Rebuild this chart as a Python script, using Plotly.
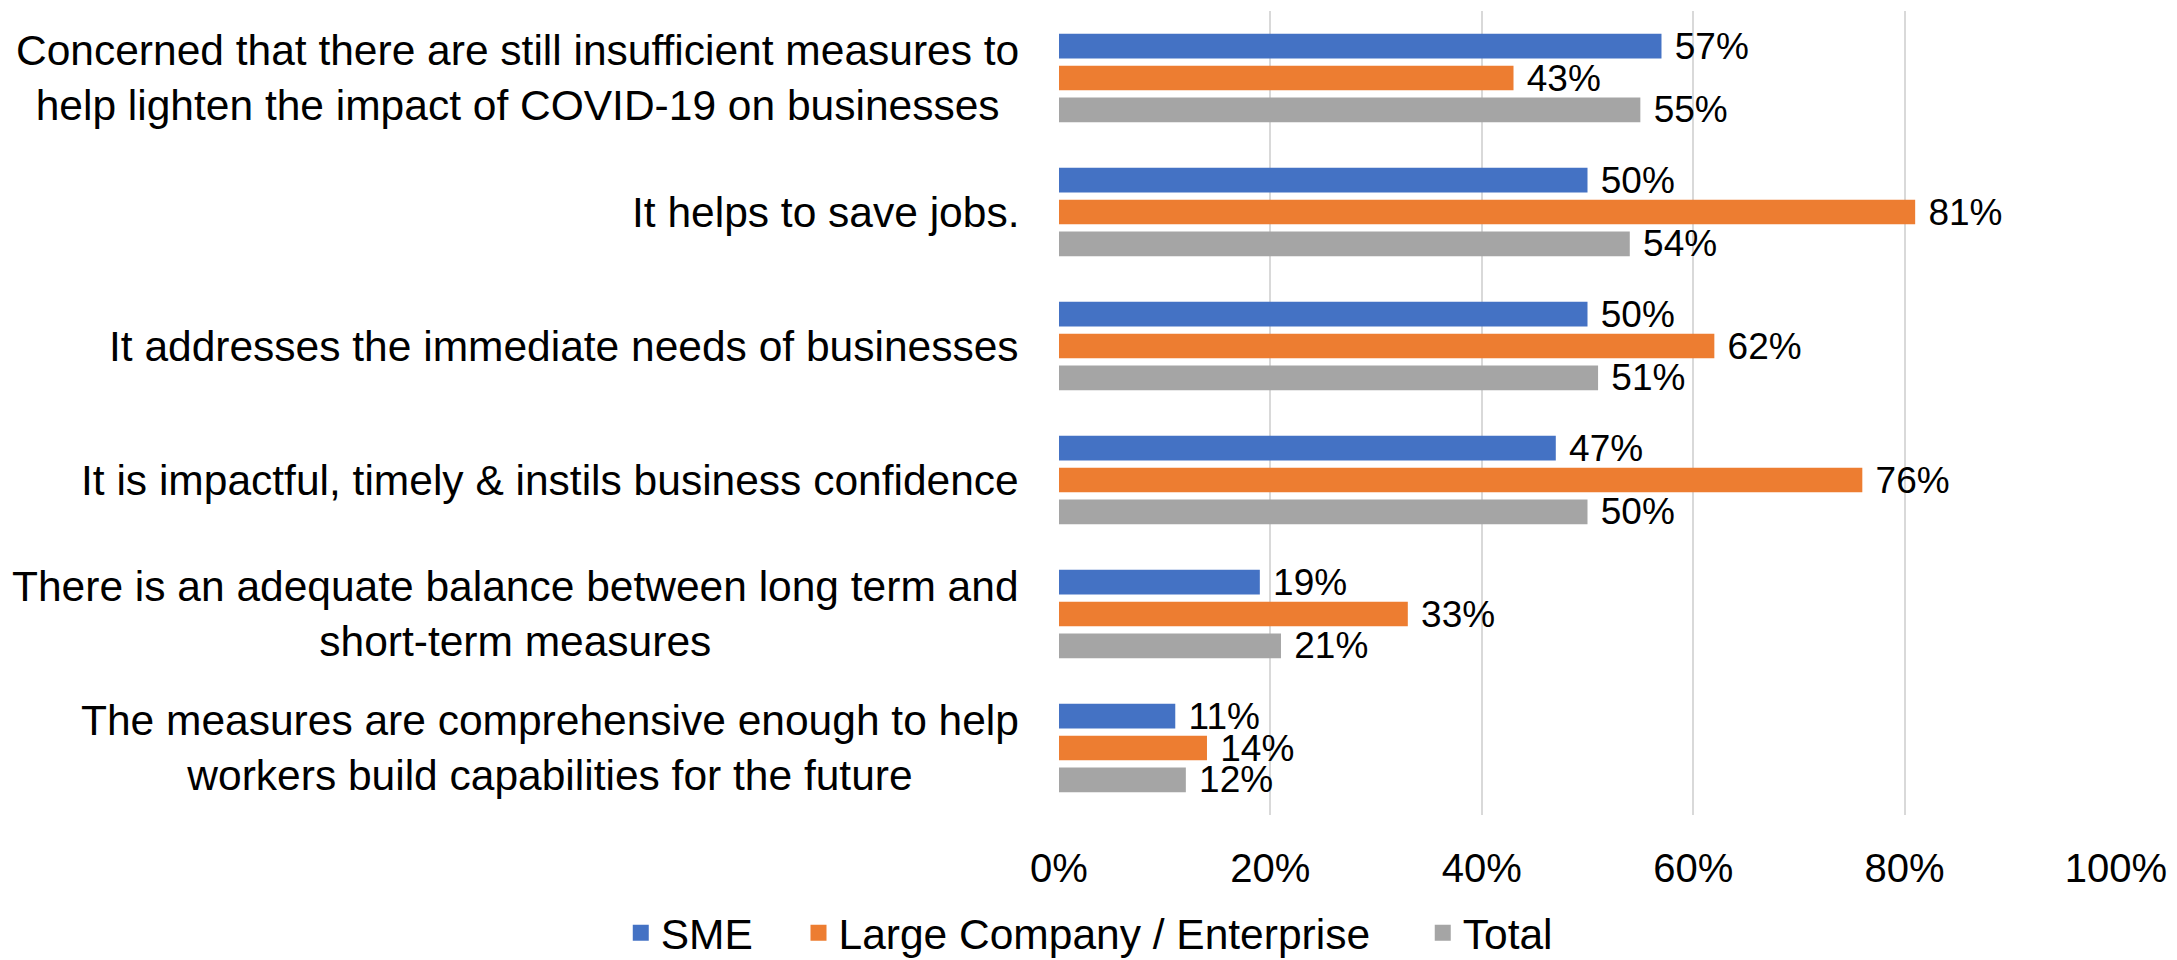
import plotly.graph_objects as go

categories = [
    "Concerned that there are still insufficient measures to<br>help lighten the impact of COVID-19 on businesses",
    "It helps to save jobs.",
    "It addresses the immediate needs of businesses",
    "It is impactful, timely & instils business confidence",
    "There is an adequate balance between long term and<br>short-term measures",
    "The measures are comprehensive enough to help<br>workers build capabilities for the future",
]
series_names = ["SME", "Large Company / Enterprise", "Total"]
sme = [57, 50, 50, 47, 19, 11]
large = [43, 81, 62, 76, 33, 14]
total = [55, 54, 51, 50, 21, 12]
x_ticks = [0, 20, 40, 60, 80, 100]
x_tick_labels = ["0%", "20%", "40%", "60%", "80%", "100%"]

colors = ["#4472C4", "#ED7D31", "#A5A5A5"]
FONT = "Arial, Liberation Sans, sans-serif"

fig = go.Figure()
pad = ["\u00a0\u00a0\u2009\u2009", "\u00a0\u00a0\u2009\u2009\u200a\u200a", ""]
for name, vals, col, p in zip(series_names, [sme, large, total], colors, pad):
    fig.add_trace(go.Bar(
        y=categories, x=vals, name=name, orientation="h",
        marker=dict(color=col, line=dict(width=0)),
        text=["\u00a0" + f"{v}%" for v in vals], textposition="outside",
        textfont=dict(size=37, color="#000000", family=FONT),
        constraintext="none", cliponaxis=False,
        showlegend=False, hoverinfo="x+y",
    ))
    # legend entry with a larger square symbol
    fig.add_trace(go.Scatter(
        x=[None], y=[None], mode="markers", name=name + p,
        marker=dict(symbol="square", size=21, color=col),
        showlegend=True,
    ))

for cat in categories:
    fig.add_annotation(
        x=0, xref="x domain", y=cat, yref="y",
        text=cat, showarrow=False, xanchor="right", yanchor="middle",
        align="center", xshift=-38,
        font=dict(size=42.5, color="#000000", family=FONT),
    )

# page body has an 8px margin, so the figure is sized to fit the 2177x960 window
fig.update_layout(
    width=2169, height=952,
    margin=dict(l=1051, r=61, t=3, b=145, autoexpand=False),
    plot_bgcolor="white", paper_bgcolor="white",
    barmode="group", bargap=0.286, bargroupgap=0.226,
    font=dict(family=FONT, color="#000000"),
    legend=dict(
        orientation="h", x=-0.4146, xanchor="left", y=-0.147, yanchor="middle",
        font=dict(size=42.5, family=FONT, color="#000000"),
        traceorder="normal", itemsizing="trace",
    ),
    xaxis=dict(
        range=[0, 100], tickvals=x_ticks, ticktext=x_tick_labels,
        showgrid=True, gridcolor="#D9D9D9", gridwidth=1.5,
        zeroline=False, showline=False,
        tickfont=dict(size=40, family=FONT, color="#000000"),
        ticklabelstandoff=26,
    ),
    yaxis=dict(
        autorange="reversed", showticklabels=False, showgrid=False,
        zeroline=False, showline=False,
    ),
)

fig.write_html("out.html")
